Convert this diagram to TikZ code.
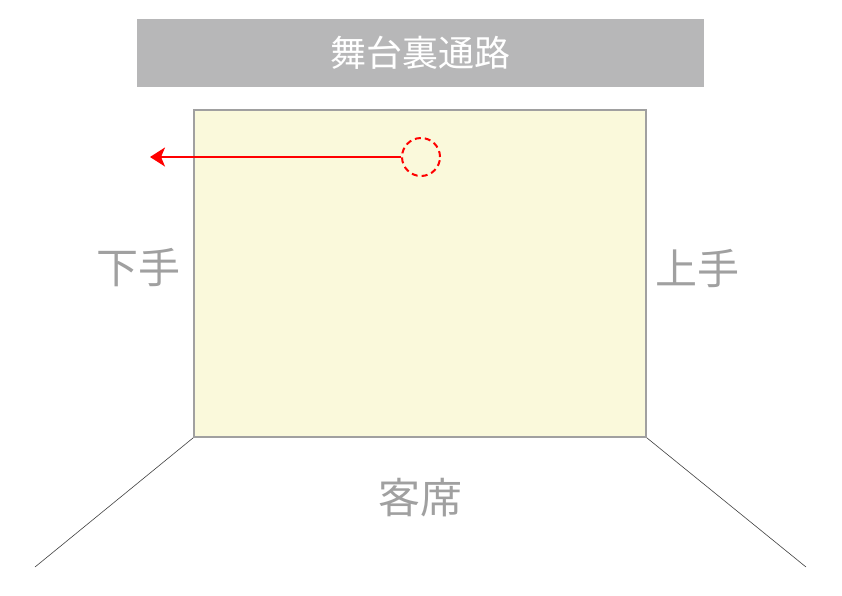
\documentclass[tikz,border=0pt]{standalone}
\usepackage{fontspec}
\newfontfamily\cjk{Noto Sans CJK JP}
\usetikzlibrary{arrows.meta}
\definecolor{hdr}{HTML}{B7B7B8}
\definecolor{stagefill}{HTML}{FAF9DB}
\definecolor{labelgray}{HTML}{A0A0A0}
\tikzset{
  lbl/.style={text=labelgray, font=\cjk\fontsize{42}{46}\selectfont, inner sep=0pt},
  wing/.style={draw=black!75, line width=0.6pt},
}
\begin{document}
\begin{tikzpicture}[x=1pt,y=-1pt]
\useasboundingbox (0,0) rectangle (842,595);
\node[fill=hdr, minimum width=567pt, minimum height=68pt, inner sep=0pt,
      text=white, font=\cjk\fontsize{36}{40}\selectfont] (hdr) at (420.5,53) {舞台裏通路};
\node[fill=stagefill, draw=labelgray, line width=1.5pt, minimum width=452pt, minimum height=327pt, inner sep=0pt] (stage) at (420,273.5) {};
\node[draw=red, dash pattern=on 6pt off 4pt, line width=2pt, circle, minimum size=38pt, inner sep=0pt] (mark) at (421,157) {};
\coordinate (exit) at (150,157);
\draw[red, line width=2pt, -{Stealth[length=15pt,width=19pt,inset=4pt]}] (mark.west) -- (exit);
\node[lbl] (shimote) at (138,268) {下手};
\node[lbl] (kamite) at (697,268) {上手};
\node[lbl] (seats) at (420,498) {客席};
\coordinate (bl) at (35,567);
\coordinate (br) at (806,567);
\draw[wing] (stage.south west) -- (bl);
\draw[wing] (stage.south east) -- (br);
\end{tikzpicture}
\end{document}
